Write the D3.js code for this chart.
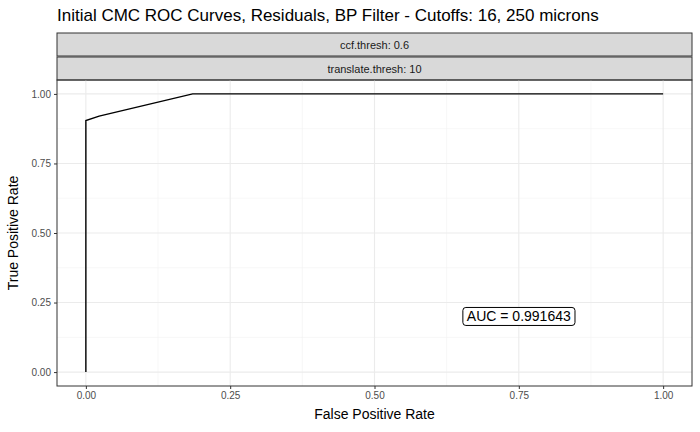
<!doctype html>
<html>
<head>
<meta charset="utf-8">
<script src="https://cdn.jsdelivr.net/npm/d3@7"></script>
<style>body{margin:0;font-family:"Liberation Sans",Arial,sans-serif}</style>
</head>
<body>
<svg id="chart" width="700" height="432"></svg>
<script>
// ROC curve
var fpr = [0, 0, 0.023, 0.185, 1];
var tpr = [0, 0.904, 0.92, 1, 1];
var ticks = [0, 0.25, 0.5, 0.75, 1];
var strips = ["ccf.thresh: 0.6", "translate.thresh: 10"];
var aucLabel = "AUC = 0.991643";

var svg = d3.select("#chart");
var pLeft = 57, pRight = 692, pTop = 80, pBottom = 386;
var x = d3.scaleLinear().domain([-0.05, 1.05]).range([pLeft, pRight]);
var y = d3.scaleLinear().domain([-0.05, 1.05]).range([pBottom, pTop]);

svg.append("text").attr("x", 57).attr("y", 21).attr("font-size", 17).text("Initial CMC ROC Curves, Residuals, BP Filter - Cutoffs: 16, 250 microns");

strips.forEach(function (s, i) {
  var y0 = 33 + i * 24;
  svg.append("rect").attr("x", pLeft).attr("y", y0).attr("width", pRight - pLeft).attr("height", 23)
    .attr("fill", "#d9d9d9").attr("stroke", "#333").attr("stroke-width", 1);
  svg.append("text").attr("x", (pLeft + pRight) / 2).attr("y", y0 + 16).attr("text-anchor", "middle")
    .attr("font-size", 11).attr("fill", "#1a1a1a").text(s);
});

var g = svg.append("g");
var minor = [0.125, 0.375, 0.625, 0.875];
minor.forEach(function (v) {
  g.append("line").attr("x1", x(v)).attr("x2", x(v)).attr("y1", pTop).attr("y2", pBottom).attr("stroke", "#f2f2f2").attr("stroke-width", 0.6);
  g.append("line").attr("y1", y(v)).attr("y2", y(v)).attr("x1", pLeft).attr("x2", pRight).attr("stroke", "#f2f2f2").attr("stroke-width", 0.6);
});
ticks.forEach(function (v) {
  g.append("line").attr("x1", x(v)).attr("x2", x(v)).attr("y1", pTop).attr("y2", pBottom).attr("stroke", "#ebebeb").attr("stroke-width", 1.1);
  g.append("line").attr("y1", y(v)).attr("y2", y(v)).attr("x1", pLeft).attr("x2", pRight).attr("stroke", "#ebebeb").attr("stroke-width", 1.1);
});

var line = d3.line().x(function (d) { return x(d[0]); }).y(function (d) { return y(d[1]); });
g.append("path").datum(d3.zip(fpr, tpr)).attr("d", line).attr("fill", "none").attr("stroke", "#000").attr("stroke-width", 1.4);

svg.append("rect").attr("x", pLeft).attr("y", pTop).attr("width", pRight - pLeft).attr("height", pBottom - pTop)
  .attr("fill", "none").attr("stroke", "#333").attr("stroke-width", 1);

var fmt = d3.format(".2f");
var xa = svg.append("g").attr("transform", "translate(0," + pBottom + ")")
  .call(d3.axisBottom(x).tickValues(ticks).tickFormat(fmt).tickSize(3).tickPadding(3));
var ya = svg.append("g").attr("transform", "translate(" + pLeft + ",0)")
  .call(d3.axisLeft(y).tickValues(ticks).tickFormat(fmt).tickSize(3).tickPadding(3));
[xa, ya].forEach(function (a) {
  a.select(".domain").remove();
  a.selectAll(".tick line").attr("stroke", "#333");
  a.selectAll("text").attr("font-size", 10).attr("fill", "#4d4d4d").attr("font-family", "Liberation Sans, Arial, sans-serif");
});

svg.append("text").attr("x", (pLeft + pRight) / 2).attr("y", 419).attr("text-anchor", "middle").attr("font-size", 14).text("False Positive Rate");
svg.append("text").attr("transform", "translate(18," + (pTop + pBottom) / 2 + ") rotate(-90)").attr("text-anchor", "middle").attr("font-size", 14).text("True Positive Rate");

var lab = svg.append("text").attr("x", x(0.75)).attr("y", y(0.2) + 5).attr("text-anchor", "middle").attr("font-size", 14).text(aucLabel);
var bb = lab.node().getBBox();
svg.append("rect").attr("x", bb.x - 4).attr("y", bb.y - 1).attr("width", bb.width + 8).attr("height", bb.height + 2)
  .attr("rx", 3).attr("fill", "#fff").attr("stroke", "#000");
lab.raise();
</script>
</body>
</html>
